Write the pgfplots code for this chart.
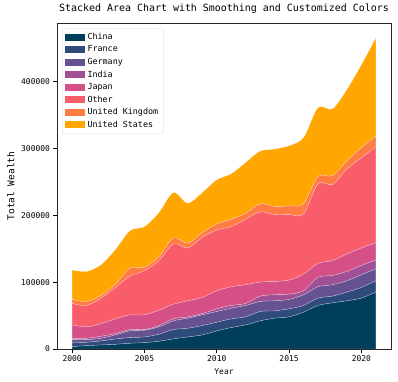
\documentclass[border=0pt]{standalone}
\usepackage{fontspec}
\setmainfont{DejaVu Sans Mono}
\usepackage{pgfplots}
\pgfplotsset{compat=1.18}
\usepackage{pgfplotstable}

\definecolor{cChina}{HTML}{003F5C}
\definecolor{cFrance}{HTML}{2F4B7C}
\definecolor{cGermany}{HTML}{665191}
\definecolor{cIndia}{HTML}{A05195}
\definecolor{cJapan}{HTML}{D45087}
\definecolor{cOther}{HTML}{F95D6A}
\definecolor{cUK}{HTML}{FF7C43}
\definecolor{cUS}{HTML}{FFA600}

\pgfplotstableread{
Year China France Germany India Japan Other UK US
2000 3500 5500 5000 2000 20000 32000 6000 44000
2001 5000 5000 4000 2000 17000 32000 6000 45000
2002 6000 6000 4000 3000 19000 38000 4000 46000
2003 7000 8000 6000 2000 22000 47000 5000 52000
2004 8500 8500 10000 2000 22000 58000 12000 56000
2005 9500 8500 10000 1000 22000 66000 5000 61000
2006 11500 10500 11000 2000 23000 74000 6000 66000
2007 15000 14000 13000 3000 22000 90000 9000 68000
2008 18000 13000 15000 2000 24000 79000 7000 60000
2009 21000 14000 16000 2000 24000 90000 7000 60000
2010 27000 13000 16000 4000 27000 91000 9000 66000
2011 32000 13000 16000 4000 28000 90000 11000 68000
2012 36000 12000 17000 3000 28000 98000 9000 76000
2013 42000 14000 15000 8000 21000 105000 12000 79000
2014 46000 11000 15000 9000 20000 100000 12000 86000
2015 48000 12000 14000 8000 21000 98000 13000 90000
2016 55000 10000 16000 6000 25000 90000 15000 99000
2017 65000 11000 17000 14000 21000 119000 11000 103000
2018 69000 10000 17000 14000 22000 114000 13000 100000
2019 72000 13000 17000 14000 26000 127000 12000 107000
2020 76000 16000 19000 14000 26000 135000 15000 124000
2021 85000 17000 18000 13000 26000 143000 16000 147000
}\data

\begin{document}
\begin{tikzpicture}
\useasboundingbox (-57bp,-33bp) rectangle (341bp,349bp);
\begin{axis}[
  at={(0,0)}, anchor=south west,
  scale only axis, width=334bp, height=326bp,
  xmin=1998.95, xmax=2022.05, ymin=0, ymax=487500,
  stack plots=y,
  xtick={2000,2005,2010,2015,2020},
  ytick={0,100000,200000,300000,400000},
  scaled y ticks=false, scaled x ticks=false,
  /pgf/number format/assume math mode=true,
  /pgf/number format/1000 sep={},
  /pgf/number format/fixed,
  tick align=outside, major tick length=3.5bp,
  xtick pos=bottom, ytick pos=left,
  tick style={black, line width=0.6bp},
  axis line style={black!85, line width=0.8bp},
  ticklabel style={font=\fontsize{8}{9}\selectfont},
  title={Stacked Area Chart with Smoothing and Customized Colors},
  title style={at={(axis description cs:0.5,1)}, anchor=base, yshift=5.6bp, inner sep=0pt, font=\fontsize{10}{12}\selectfont},
  xlabel={Year},
  xlabel style={at={(axis description cs:0.5,0)}, anchor=base, yshift=-25.7bp, inner sep=0pt, font=\fontsize{8}{9}\selectfont},
  legend style={at={(axis description cs:0.015,0.983)}, anchor=north west, draw=black!15, rounded corners=2bp, fill=white, fill opacity=0.8, text opacity=1, font=\fontsize{8.4}{10}\selectfont, row sep=0pt, nodes={inner sep=2.4bp}},
  legend cell align=left,
  legend image code/.code={\path[#1,draw=none,sharp corners,fill opacity=1] (0bp,-3.5bp) rectangle (20bp,3.5bp);},
  every axis plot/.append style={smooth, tension=0.5, draw=white, draw opacity=0.45, line width=0.4bp},
]
\addplot[fill=cChina] table[x=Year,y=China]{\data} \closedcycle;
\addplot[fill=cFrance] table[x=Year,y=France]{\data} \closedcycle;
\addplot[fill=cGermany] table[x=Year,y=Germany]{\data} \closedcycle;
\addplot[fill=cIndia] table[x=Year,y=India]{\data} \closedcycle;
\addplot[fill=cJapan] table[x=Year,y=Japan]{\data} \closedcycle;
\addplot[fill=cOther] table[x=Year,y=Other]{\data} \closedcycle;
\addplot[fill=cUK] table[x=Year,y=UK]{\data} \closedcycle;
\addplot[fill=cUS] table[x=Year,y=US]{\data} \closedcycle;
\legend{China,France,Germany,India,Japan,Other,United Kingdom,United States}
\end{axis}
\node[rotate=90, anchor=base, inner sep=0pt, font=\fontsize{9.5}{11}\selectfont, text=black] at (-42.7bp,163bp) {Total Wealth};
\end{tikzpicture}
\end{document}
